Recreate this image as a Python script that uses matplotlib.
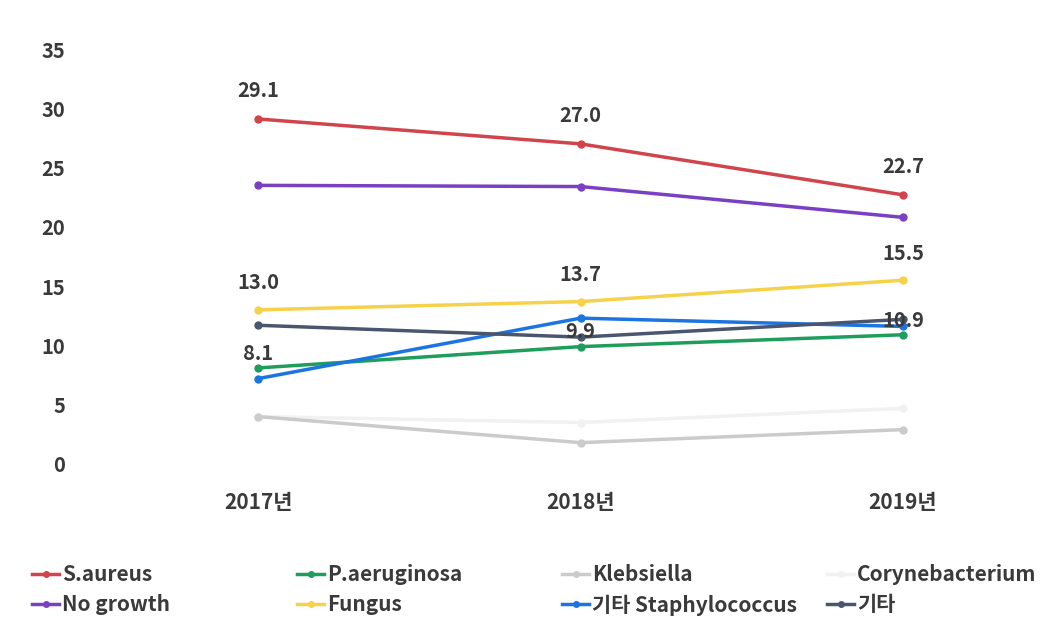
import matplotlib
matplotlib.use("Agg")
import matplotlib.pyplot as plt
from matplotlib.lines import Line2D

plt.rcParams['font.family'] = ['Noto Sans CJK KR', 'DejaVu Sans']

years = ["2017년", "2018년", "2019년"]
s_aureus = [29.1, 27.0, 22.7]
p_aeruginosa = [8.1, 9.9, 10.9]
klebsiella = [4.0, 1.8, 2.9]
corynebacterium = [4.0, 3.5, 4.7]
no_growth = [23.5, 23.4, 20.8]
fungus = [13.0, 13.7, 15.5]
other_staph = [7.2, 12.3, 11.6]
other = [11.7, 10.7, 12.2]
yticks = [0, 5, 10, 15, 20, 25, 30, 35]

series = [
    ("S.aureus", s_aureus, "#d0454c"),
    ("P.aeruginosa", p_aeruginosa, "#1f9d5c"),
    ("Klebsiella", klebsiella, "#cbcbcb"),
    ("Corynebacterium", corynebacterium, "#f1f1f1"),
    ("No growth", no_growth, "#7a40c2"),
    ("Fungus", fungus, "#f6d24a"),
    ("기타 Staphylococcus", other_staph, "#1c74e0"),
    ("기타", other, "#4a566e"),
]
labeled = {"S.aureus": (s_aureus, 13), "Fungus": (fungus, 12), "P.aeruginosa": (p_aeruginosa, 3)}

W, H = 1060, 644
fig = plt.figure(figsize=(W/100, H/100), dpi=100)
ax_left, ax_right = 100, 1040
ax_top, ax_bot = 49, 464
ax = fig.add_axes([ax_left/W, 1-ax_bot/H, (ax_right-ax_left)/W, (ax_bot-ax_top)/H])

x = [0, 1, 2]
zorders = {"Corynebacterium": 1, "Klebsiella": 2}
for name, vals, col in series:
    ax.plot(x, vals, color=col, lw=2.5, marker='o', ms=5, clip_on=False,
            zorder=zorders.get(name, 3), label=name)

txtcol = "#3a3a3a"
for name, (vals, off) in labeled.items():
    for xi, v in zip(x, vals):
        ax.annotate(f"{v:.1f}", (xi, v), xytext=(0, off), textcoords='offset points',
                    ha='center', va='bottom', fontsize=14.5, fontweight='bold', color=txtcol, zorder=5)

scale = 322.5
ax.set_xlim(-(258-ax_left)/scale, 2 + (ax_right-903)/scale)
ax.set_ylim(0, 35)
ax.set_yticks(yticks)
ax.set_yticklabels([str(t) for t in yticks], fontsize=14.5, fontweight='bold', color=txtcol)
ax.set_xticks(x)
ax.set_xticklabels(years, fontsize=15, fontweight='bold', color=txtcol)
ax.tick_params(axis='both', length=0)
ax.tick_params(axis='x', pad=20)
ax.tick_params(axis='y', pad=25)
for sp in ax.spines.values():
    sp.set_visible(False)

# legend: 4 equal-width slots, 2 rows
col_x = [32, 297, 562, 827]
for c in range(4):
    idx = [c, c + 4]
    handles = [Line2D([0], [0], color=series[i][2], lw=2.5, marker='o', ms=4) for i in idx]
    labels = [series[i][0] for i in idx]
    leg = fig.legend(handles, labels, loc='upper left',
                     bbox_to_anchor=(col_x[c]/W, 1-564/H), ncol=1,
                     frameon=False, handlelength=1.3, handletextpad=0.15,
                     labelspacing=0.45, borderpad=0, borderaxespad=0,
                     prop={'size': 15, 'weight': 'bold'})
    for t in leg.get_texts():
        t.set_color(txtcol)

fig.savefig("out.png", dpi=100, facecolor='white')
